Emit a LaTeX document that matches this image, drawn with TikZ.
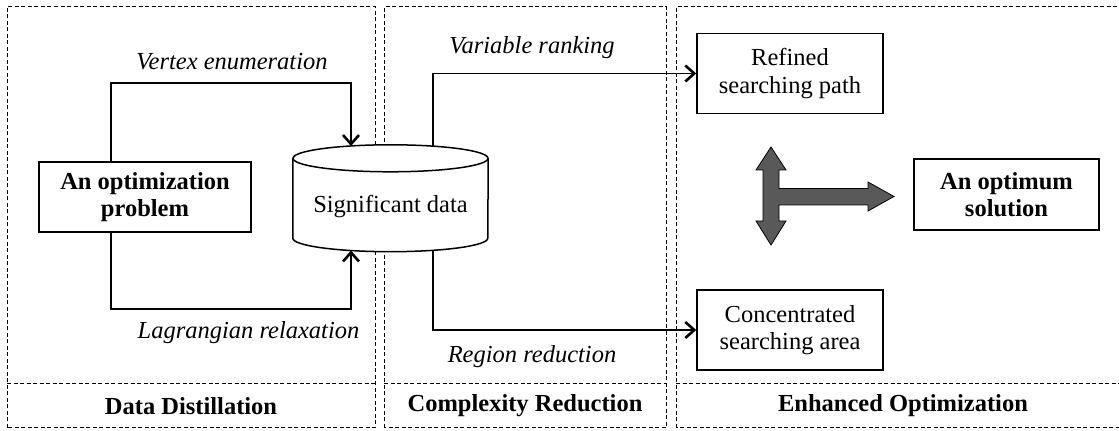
\documentclass[tikz,border=0pt]{standalone}
\usepackage{fontspec}
\setmainfont{Liberation Serif}
\usetikzlibrary{arrows.meta,calc,positioning}
\newcommand{\figfont}{\fontsize{24.5}{27.5}\selectfont}
\tikzset{
  panel/.style={line width=1pt,dash pattern=on 4pt off 2.5pt},
  ttl/.style={font=\figfont\bfseries},
  box/.style={draw,line width=1.5pt,align=center,inner sep=0pt},
  cylbody/.style={minimum width=195pt,minimum height=79.5pt,inner sep=0pt},
  cyl/.style={line width=1.5pt,fill=white},
  flow/.style={line width=1.6pt,-{Straight Barb[length=9pt,width=16pt,line width=2.6pt]}},
  lbl/.style={font=\figfont\itshape},
  bigarrow/.style={draw=black,line width=0.8pt,fill=black!65},
}

\begin{document}
\begin{tikzpicture}[x=1pt,y=1pt,font=\figfont]
    \useasboundingbox (0,0) rectangle (1119,431);
    \clip (0,0) rectangle (1119,431);
    % ------------- panels -------------
    \foreach \l/\r/\name in {7/375/Data Distillation,384/666/Complexity Reduction,676/1130/Enhanced Optimization}{
      \draw[panel] (\l,3) rectangle (\r,424);
      \draw[panel] (\l,47) -- (\r,47);
      \node[ttl] (ttl\l) at ({(\l+\r)/2},25) {\name};
    }
    % ------------- data distillation -------------
    \node[box,font=\figfont\bfseries,minimum width=212pt,minimum height=70pt] (prob) at (145,234) {An optimization\\problem};
    \node[cylbody] (data) at (390.5,232.75) {};
    \draw[cyl] (data.north west) -- (data.south west)
      arc[start angle=180,end angle=360,x radius=97.5pt,y radius=13.5pt] -- (data.north east);
    \draw[cyl] (data.north) ellipse[x radius=97.5pt,y radius=13.5pt];
    \node (datatext) at ([yshift=-8.75pt]data.center) {Significant data};
    \coordinate (inTop) at ($(data.north)+(-39.5,12.3)$);
    \coordinate (inBot) at ($(data.south)+(-39.5,-12.3)$);
    \coordinate (outTop) at ($(data.north)+(42.5,12.15)$);
    \coordinate (outBot) at ($(data.south)+(42.5,-12.15)$);
    \draw[flow] ([xshift=-34pt]prob.north) -- ++(0,78) -| (inTop);
    \draw[flow] ([xshift=-34pt]prob.south) -- ++(0,-76) -| (inBot);
    \node[lbl] (venum) at (232,369) {Vertex enumeration};
    \node[lbl] (lagr) at (248.5,98) {Lagrangian relaxation};
    % ------------- complexity reduction -------------
    \node[box,minimum width=186pt,minimum height=80pt] (refined) at (790,357.5) {Refined\\searching path};
    \node[box,minimum width=186pt,minimum height=80pt] (conc) at (790,101) {Concentrated\\searching area};
    \draw[flow] (outTop) |- (refined.west);
    \draw[flow] (outBot) |- (conc.west);
    \node[lbl] (vrank) at (532,383) {Variable ranking};
    \node[lbl] (rred) at (532,74) {Region reduction};
    % ------------- enhanced optimization -------------
    \node[box,font=\figfont\bfseries,minimum width=185pt,minimum height=71pt] (optim) at (1006.5,236.5) {An optimum\\solution};
    \draw[bigarrow] (771,284) -- (786,261) -- (779,261) -- (779,242.5) -- (868,242.5) -- (868,249)
      -- (894,234.5) -- (868,220) -- (868,226) -- (779,226) -- (779,210) -- (786,210)
      -- (771,186) -- (756,210) -- (763,210) -- (763,261) -- (756,261) -- cycle;
  \end{tikzpicture}
\end{document}
